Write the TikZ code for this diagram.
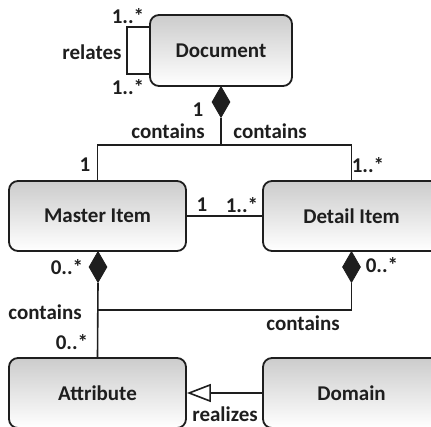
\documentclass[tikz,border=0pt]{standalone}
\usepackage{fontspec}
\setmainfont{Carlito}
\usetikzlibrary{shapes.geometric,arrows.meta}
\definecolor{ink}{HTML}{1E1E1E}
\tikzset{
  umlbox/.style={draw=ink, line width=1.8pt, rounded corners=9pt, top color=black!20, bottom color=white,
    minimum width=177pt, minimum height=70pt, inner sep=0pt, font=\fontsize{21}{25}\selectfont\bfseries, text=ink},
  compo/.style={diamond, draw=ink, fill=ink, line width=0.8pt, minimum width=18pt, minimum height=31pt, inner sep=0pt, aspect=0.6},
  conn/.style={draw=ink, line width=1.6pt},
  lbl/.style={font=\fontsize{21}{25}\selectfont\bfseries, text=ink, inner sep=0pt}
}
\begin{document}
\begin{tikzpicture}[x=1pt,y=-1pt]
\useasboundingbox (0,0) rectangle (431,427);
\clip (0,0) rectangle (431,427);
% boxes
\node[umlbox, minimum width=142pt, minimum height=71pt] (doc) at (221,50.5) {Document};
\node[umlbox] (master) at (97.5,216) {Master Item};
\node[umlbox] (detail) at (351.5,216) {Detail Item};
\node[umlbox] (attr) at (97.5,393) {Attribute};
\node[umlbox] (domain) at (351.5,393) {Domain};
% diamonds
\node[compo] (dd) at (221,102) {};
\node[compo] (md) at (98,267) {};
\node[compo] (ddi) at (351.5,267) {};
% junction coordinates
\coordinate (j0) at (221,145);
\coordinate (j1) at (98,310);
\coordinate (r1) at (127,27);
\coordinate (r2) at (127,74);
% connectors
\draw[conn] (dd.south) -- (j0) -| (master.north);
\draw[conn] (j0) -| (detail.north);
\draw[conn] (master.east) -- (detail.west);
\draw[conn] (md.south) -- (attr.north);
\draw[conn] (j1) -| (ddi.south);
\draw[conn] (doc.west |- r1) -- (r1) -- (r2) -- (doc.west |- r2);
\draw[conn, -{Triangle[open, length=24pt, width=18pt, line width=1.6pt]}] (domain.west) -- (attr.east);
% labels
\node[lbl] (l1) at (128,16) {1..*};
\node[lbl] (l2) at (92,52) {relates};
\node[lbl] (l3) at (128,87) {1..*};
\node[lbl] (l4) at (198,110) {1};
\node[lbl] (l5) at (168,131) {contains};
\node[lbl] (l6) at (270,131) {contains};
\node[lbl] (l7) at (85,165) {1};
\node[lbl] (l8) at (368,165) {1..*};
\node[lbl] (l9) at (202,205) {1};
\node[lbl] (l10) at (242,205) {1..*};
\node[lbl] (l11) at (67,267) {0..*};
\node[lbl] (l12) at (382,265) {0..*};
\node[lbl] (l13) at (45,312) {contains};
\node[lbl] (l14) at (303,323) {contains};
\node[lbl] (l15) at (72,342) {0..*};
\node[lbl] (l16) at (225,414) {realizes};
\end{tikzpicture}
\end{document}
